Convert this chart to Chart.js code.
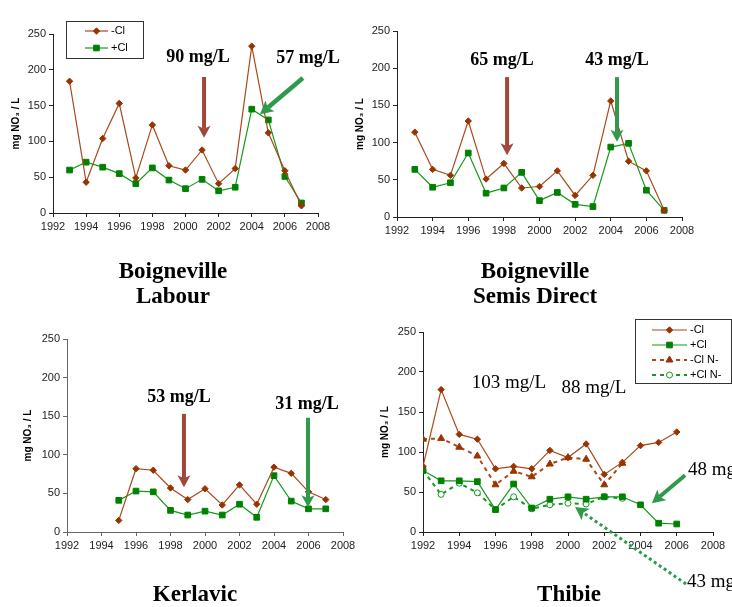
<!DOCTYPE html>
<html><head><meta charset="utf-8">
<script src="https://cdn.jsdelivr.net/npm/chart.js@4.4.1/dist/chart.umd.min.js"></script>
<style>
html,body{margin:0;padding:0;background:#fff;}
#wrap{position:relative;width:732px;height:607px;overflow:hidden;background:#fff;}
canvas{position:absolute;}
</style></head><body><div id="wrap">
<canvas id="c1" width="360" height="320" style="left:0px;top:0px"></canvas>
<canvas id="c3" width="360" height="287" style="left:0px;top:320px"></canvas>
<canvas id="c2" width="382" height="320" style="left:350px;top:0px"></canvas>
<canvas id="c4" width="382" height="297" style="left:350px;top:310px"></canvas>
</div>
<script>
// ---------- data ----------
const xTicksMin = 1992, xTicksMax = 2008;
const yTicksMin = 0, yTicksMax = 250;

const labourYears = [1993,1994,1995,1996,1997,1998,1999,2000,2001,2002,2003,2004,2005,2006,2007];
const labourMinusCl = [184,43,104,153,49,123,66,60,88,41,62,233,112,59,10];
const labourPlusCl  = [60,71,64,55,41,63,46,34,47,31,36,145,130,51,14];

const semisYears = [1993,1994,1995,1996,1997,1998,1999,2000,2001,2002,2003,2004,2005,2006,2007];
const semisMinusCl = [114,64,56,129,51,72,39,41,62,29,56,156,75,62,9];
const semisPlusCl  = [64,40,46,86,32,39,60,22,33,17,14,94,99,36,9];

const kerlavicYears = [1995,1996,1997,1998,1999,2000,2001,2002,2003,2004,2005,2006,2007];
const kerlavicMinusCl = [15,82,80,57,42,56,35,61,36,84,76,52,42];
const kerlavicPlusCl  = [41,53,52,28,22,27,22,36,19,73,40,30,30];

const thibieYears = [1992,1993,1994,1995,1996,1997,1998,1999,2000,2001,2002,2003,2004,2005,2006];
const thibieMinusCl = [82,178,122,116,79,82,79,102,93,110,72,87,108,112,125];
const thibiePlusCl  = [77,64,64,63,28,60,30,41,44,41,44,44,34,11,10];
const thibieNYears = [1992,1993,1994,1995,1996,1997,1998,1999,2000,2001,2002,2003];
const thibieMinusClN = [116,117,106,95,59,76,69,85,93,91,59,86];
const thibiePlusClN  = [77,47,61,49,28,44,29,34,36,35,44,42];

const seriesLabels = ['-Cl','+Cl','-Cl N-','+Cl N-'];
const panelTitles = [['Boigneville','Labour'],['Boigneville','Semis Direct'],['Kerlavic'],['Thibie']];

// ---------- styles ----------
const BROWN = '#A9481C', BROWN_PT = '#993300', GREEN = '#139A1A', GREEN_PT = '#008000';
const ARROW_BROWN = '#A2463A', ARROW_GREEN = '#2F9A4C';
const SANS = "'Liberation Sans', Arial, 'DejaVu Sans', sans-serif";
const SERIF = "'Liberation Serif', 'Times New Roman', serif";

const styleMinus = {borderColor:BROWN, borderWidth:1.2, pointStyle:'rectRot', pointRadius:3.2,
  pointBackgroundColor:BROWN_PT, pointBorderColor:BROWN_PT, pointBorderWidth:1, tension:0, fill:false};
const stylePlus = {borderColor:GREEN, borderWidth:1.2, pointStyle:'rect', pointRadius:4,
  pointBackgroundColor:GREEN_PT, pointBorderColor:GREEN_PT, pointBorderWidth:1, tension:0, fill:false};
const styleMinusN = {borderColor:BROWN, borderWidth:2, borderDash:[4,4], pointStyle:'triangle', pointRadius:4,
  pointBackgroundColor:BROWN_PT, pointBorderColor:BROWN_PT, pointBorderWidth:1, tension:0, fill:false};
const stylePlusN = {borderColor:GREEN, borderWidth:2, borderDash:[4,4], pointStyle:'circle', pointRadius:3,
  pointBackgroundColor:'#ffffff', pointBorderColor:GREEN, pointBorderWidth:1, tension:0, fill:false};

function ds(label, xs, ys, style){
  return Object.assign({label, data: xs.map((x,i)=>({x, y: ys[i]}))}, style);
}

// ---------- drawing helpers ----------
function drawMarker(ctx, style, r, x, y){
  ctx.beginPath();
  if (style === 'rect'){ const s = r/Math.SQRT2; ctx.rect(x-s, y-s, 2*s, 2*s); }
  else if (style === 'rectRot'){ ctx.moveTo(x, y-r); ctx.lineTo(x+r, y); ctx.lineTo(x, y+r); ctx.lineTo(x-r, y); ctx.closePath(); }
  else if (style === 'triangle'){ ctx.moveTo(x, y-r); ctx.lineTo(x+r*0.87, y+r*0.5); ctx.lineTo(x-r*0.87, y+r*0.5); ctx.closePath(); }
  else { ctx.arc(x, y, r, 0, Math.PI*2); }
  ctx.fill(); ctx.stroke();
}

function drawArrow(ctx, x1, y1, x2, y2, a){
  const ang = Math.atan2(y2-y1, x2-x1);
  const c = Math.cos(ang), s = Math.sin(ang);
  const bx = x2 - a.headLen*c, by = y2 - a.headLen*s;
  const nx = bx + (a.notch||0)*c, ny = by + (a.notch||0)*s;
  ctx.save();
  ctx.strokeStyle = a.color; ctx.lineWidth = a.width; ctx.lineCap = 'butt';
  ctx.setLineDash(a.dash || []);
  ctx.beginPath(); ctx.moveTo(x1, y1); ctx.lineTo(nx, ny); ctx.stroke();
  ctx.setLineDash([]);
  ctx.fillStyle = a.color;
  ctx.beginPath();
  ctx.moveTo(x2, y2);
  ctx.lineTo(bx + a.headWidth/2*s, by - a.headWidth/2*c);
  ctx.lineTo(nx, ny);
  ctx.lineTo(bx - a.headWidth/2*s, by + a.headWidth/2*c);
  ctx.closePath(); ctx.fill();
  ctx.restore();
}

const annotPlugin = {
  id: 'annot',
  afterDraw(chart, args, opts){
    const ctx = chart.ctx, xs = chart.scales.x, ys = chart.scales.y;
    const px = v => xs.getPixelForValue(v), py = v => ys.getPixelForValue(v);
    ctx.save();
    (opts.texts || []).forEach(t => {
      ctx.font = t.font; ctx.fillStyle = '#000'; ctx.textAlign = t.align || 'center'; ctx.textBaseline = 'middle';
      ctx.fillText(t.text, px(t.at[0]), py(t.at[1]));
    });
    (opts.arrows || []).forEach(a => drawArrow(ctx, px(a.from[0]), py(a.from[1]), px(a.to[0]), py(a.to[1]), a));
    // panel title
    if (opts.title){
      ctx.font = 'bold 23px ' + SERIF; ctx.fillStyle = '#000'; ctx.textAlign = 'center'; ctx.textBaseline = 'middle';
      opts.title.lines.forEach((l, i) => ctx.fillText(l, opts.title.x, opts.title.y + i*25));
    }
    // legend
    const lg = opts.legend;
    if (lg){
      ctx.fillStyle = '#fff'; ctx.fillRect(lg.box[0], lg.box[1], lg.box[2], lg.box[3]);
      ctx.strokeStyle = '#333'; ctx.lineWidth = 1;
      ctx.strokeRect(lg.box[0]+0.5, lg.box[1]+0.5, lg.box[2]-1, lg.box[3]-1);
      chart.data.datasets.forEach((d, i) => {
        const y = lg.rows[i];
        ctx.strokeStyle = d.borderColor; ctx.lineWidth = d.borderWidth; ctx.setLineDash(d.borderDash || []);
        ctx.beginPath(); ctx.moveTo(lg.x0, y); ctx.lineTo(lg.x1, y); ctx.stroke();
        ctx.setLineDash([]);
        ctx.fillStyle = d.pointBackgroundColor; ctx.strokeStyle = d.pointBorderColor; ctx.lineWidth = d.pointBorderWidth || 1;
        drawMarker(ctx, d.pointStyle, d.pointRadius, (lg.x0+lg.x1)/2, y);
        ctx.fillStyle = '#000'; ctx.font = '11px ' + SANS; ctx.textAlign = 'left'; ctx.textBaseline = 'middle';
        ctx.fillText(d.label, lg.tx, y);
      });
    }
    ctx.restore();
  }
};

function makeChart(id, cfg){
  const axisColor = cfg.axisColor || '#222';
  const tickFont = {family: SANS, size: 11};
  return new Chart(document.getElementById(id), {
    type: 'line',
    data: {datasets: cfg.datasets},
    options: {
      responsive: false, animation: false, devicePixelRatio: 1,
      layout: {padding: cfg.pad},
      plugins: {legend: {display: false}, tooltip: {enabled: false}, annot: cfg.annot},
      scales: {
        x: {type: 'linear', min: xTicksMin, max: xTicksMax,
          afterFit: s => { s.height = 30; },
          ticks: {stepSize: 2, callback: v => String(v), font: tickFont, color: '#222', padding: 3, maxRotation: 0, autoSkip: false},
          grid: {display: true, drawOnChartArea: false, drawTicks: true, tickLength: 4, color: axisColor},
          border: {display: true, color: axisColor, width: 1}},
        y: {min: yTicksMin, max: yTicksMax,
          afterFit: s => { s.width = cfg.yw; },
          ticks: {stepSize: 50, font: tickFont, color: '#222', padding: 3},
          title: {display: true, text: 'mg NO₃ / L', font: {family: SANS, size: 10, weight: 'bold'}, color: '#000'},
          grid: {display: true, drawOnChartArea: false, drawTicks: true, tickLength: 4, color: axisColor},
          border: {display: true, color: axisColor, width: 1}}
      }
    },
    plugins: [annotPlugin]
  });
}

const bigBold = 'bold 18px ' + SERIF;
const big = '19px ' + SERIF;

// Panel 1: Boigneville Labour
makeChart('c1', {
  pad: {left: 6, top: 34, right: 42, bottom: 77}, yw: 47,
  datasets: [ds(seriesLabels[0], labourYears, labourMinusCl, styleMinus), ds(seriesLabels[1], labourYears, labourPlusCl, stylePlus)],
  annot: {
    texts: [{text: '90 mg/L', at: [2000.75, 218], font: bigBold}, {text: '57 mg/L', at: [2007.4, 216], font: bigBold}],
    arrows: [
      {from: [2001.12, 190], to: [2001.12, 105], color: ARROW_BROWN, width: 4, headLen: 12, headWidth: 13, notch: 3},
      {from: [2007.09, 188.5], to: [2004.5, 138], color: ARROW_GREEN, width: 4.5, headLen: 13, headWidth: 14, notch: 3}
    ],
    title: {lines: panelTitles[0], x: 173, y: 272},
    legend: {box: [66, 21, 78, 38], rows: [31, 48], x0: 85, x1: 108, tx: 111}
  }
});

// Panel 2: Boigneville Semis Direct
makeChart('c2', {
  pad: {left: 0, top: 31, right: 50, bottom: 73}, yw: 47,
  datasets: [ds(seriesLabels[0], semisYears, semisMinusCl, styleMinus), ds(seriesLabels[1], semisYears, semisPlusCl, stylePlus)],
  annot: {
    texts: [{text: '65 mg/L', at: [1997.9, 211], font: bigBold}, {text: '43 mg/L', at: [2004.35, 211], font: bigBold}],
    arrows: [
      {from: [1998.18, 188], to: [1998.18, 83], color: ARROW_BROWN, width: 4, headLen: 12, headWidth: 13, notch: 3},
      {from: [2004.35, 188], to: [2004.35, 101], color: ARROW_GREEN, width: 4, headLen: 12, headWidth: 13, notch: 3}
    ],
    title: {lines: panelTitles[1], x: 185, y: 272}
  }
});

// Panel 3: Kerlavic
makeChart('c3', {
  pad: {left: 18, top: 19, right: 17, bottom: 45}, yw: 49, axisColor: '#666',
  datasets: [ds(seriesLabels[0], kerlavicYears, kerlavicMinusCl, styleMinus), ds(seriesLabels[1], kerlavicYears, kerlavicPlusCl, stylePlus)],
  annot: {
    texts: [{text: '53 mg/L', at: [1998.49, 175], font: bigBold}, {text: '31 mg/L', at: [2005.91, 166], font: bigBold}],
    arrows: [
      {from: [1998.78, 153], to: [1998.78, 58], color: ARROW_BROWN, width: 4, headLen: 12, headWidth: 13, notch: 3},
      {from: [2005.97, 148], to: [2005.97, 32], color: ARROW_GREEN, width: 4, headLen: 12, headWidth: 13, notch: 3}
    ],
    title: {lines: panelTitles[2], x: 195, y: 275}
  }
});

// Panel 4: Thibie
makeChart('c4', {
  pad: {left: 25, top: 22, right: 19, bottom: 45}, yw: 48,
  datasets: [
    ds(seriesLabels[0], thibieYears, thibieMinusCl, styleMinus),
    ds(seriesLabels[1], thibieYears, thibiePlusCl, stylePlus),
    ds(seriesLabels[2], thibieNYears, thibieMinusClN, styleMinusN),
    ds(seriesLabels[3], thibieNYears, thibiePlusClN, stylePlusN)
  ],
  annot: {
    texts: [
      {text: '103 mg/L', at: [1996.74, 186], font: big},
      {text: '88 mg/L', at: [2001.43, 180], font: big},
      {text: '48 mg/L', at: [2006.62, 77.5], font: big, align: 'left'},
      {text: '43 mg/L', at: [2006.57, -62.5], font: big, align: 'left'}
    ],
    arrows: [
      {from: [2006.46, 71], to: [2004.63, 36], color: ARROW_GREEN, width: 4, headLen: 13, headWidth: 14, notch: 3},
      {from: [2006.51, -65], to: [2000.39, 31.25], color: ARROW_GREEN, width: 3, dash: [3, 3], headLen: 13, headWidth: 14, notch: 3}
    ],
    title: {lines: panelTitles[3], x: 219, y: 285},
    legend: {box: [285, 9, 97, 65], rows: [20, 35, 50, 65], x0: 302, x1: 337, tx: 340}
  }
});
</script>
</body></html>
